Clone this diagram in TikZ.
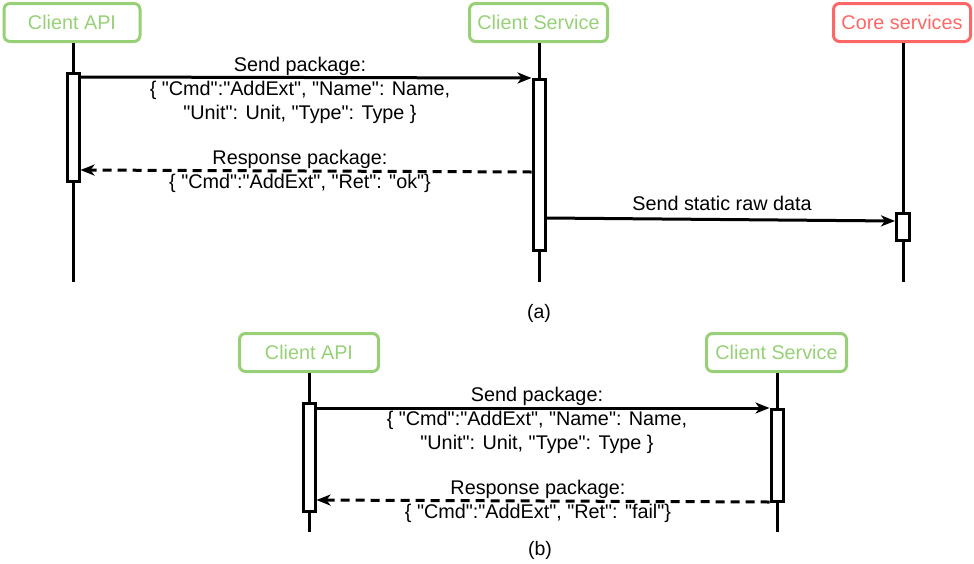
\documentclass[tikz,border=0pt]{standalone}
\usepackage{fontspec}
\setmainfont{Liberation Sans}[Ligatures=TeXOff]
\usetikzlibrary{arrows.meta}
\definecolor{mossgreen}{RGB}{151, 208, 119}
\definecolor{salmonred}{RGB}{255, 102, 102}

\begin{document}
\begin{tikzpicture}[x=1pt, y=-1pt,
    actor/.style={draw, line width=3pt, rounded corners=6pt, minimum height=38pt, inner sep=0pt, font=\fontsize{19.8}{24}\selectfont},
    act/.style={draw, line width=3pt, fill=white, minimum width=12pt, inner sep=0pt},
    life/.style={line width=3pt},
    msg/.style={line width=3pt, -{Stealth[length=14pt, width=11pt, inset=4pt]}},
    resp/.style={msg, dash pattern=on 9pt off 6pt},
    lbl/.style={align=center, inner sep=0pt, font=\fontsize{19.8}{24}\selectfont}]
    \useasboundingbox (0,0) rectangle (974,563);

    % (a)
    \node[actor, color=mossgreen, minimum width=136pt] (apiA) at (72,22.5) {Client API};
    \node[actor, color=mossgreen, minimum width=138pt] (svcA) at (538.5,22.5) {Client Service};
    \node[actor, color=salmonred, minimum width=137pt] (coreA) at (902,22.5) {Core services};
    \coordinate (apiEndA) at (73,282);
    \coordinate (svcEndA) at (539,282);
    \coordinate (coreEndA) at (903,282);
    \draw[life] (apiA.south -| apiEndA) -- (apiEndA);
    \draw[life] (svcA.south -| svcEndA) -- (svcEndA);
    \draw[life] (coreA.south -| coreEndA) -- (coreEndA);
    \node[act, minimum height=108pt] (actApiA) at (73,127.5) {};
    \node[act, minimum height=171pt] (actSvcA) at (539,165) {};
    \node[act, minimum height=27pt, minimum width=13pt] (actCoreA) at (903,227) {};
    \draw[msg] ([yshift=-5pt]actApiA.north east) -- (actSvcA.north west);
    \node[lbl] (sendA) at (300,90) {Send package:\\\{ "Cmd":"AddExt", "Name": Name,\\"Unit": Unit, "Type": Type \}};
    \draw[resp] (actSvcA.west |- 0,172) -- (actApiA.east |- 0,170);
    \node[lbl] (respA) at (300,171) {Response package:\\\{ "Cmd":"AddExt", "Ret": "ok"\}};
    \draw[msg] (actSvcA.east |- 0,218) -- (actCoreA.west |- 0,221);
    \node[lbl] (rawA) at (722,203) {Send static raw data};
    \node[lbl, font=\fontsize{19.5}{22}\selectfont] (capA) at (539,313) {(a)};

    % (b)
    \node[actor, color=mossgreen, minimum width=139pt] (apiB) at (309,352.5) {Client API};
    \node[actor, color=mossgreen, minimum width=140pt] (svcB) at (776.5,352.5) {Client Service};
    \coordinate (apiEndB) at (309,532);
    \coordinate (svcEndB) at (777,532);
    \draw[life] (apiB.south -| apiEndB) -- (apiEndB);
    \draw[life] (svcB.south -| svcEndB) -- (svcEndB);
    \node[act, minimum height=108pt] (actApiB) at (309,457.5) {};
    \node[act, minimum height=92pt] (actSvcB) at (777,455.5) {};
    \draw[msg] ([yshift=-6pt]actApiB.north east) -- (actSvcB.north west);
    \node[lbl] (sendB) at (537,420) {Send package:\\\{ "Cmd":"AddExt", "Name": Name,\\"Unit": Unit, "Type": Type \}};
    \draw[resp] (actSvcB.west |- 0,502) -- (actApiB.east |- 0,500);
    \node[lbl] (respB) at (538,501) {Response package:\\\{ "Cmd":"AddExt", "Ret": "fail"\}};
    \node[lbl, font=\fontsize{19.5}{22}\selectfont] (capB) at (540,550) {(b)};
\end{tikzpicture}
\end{document}
